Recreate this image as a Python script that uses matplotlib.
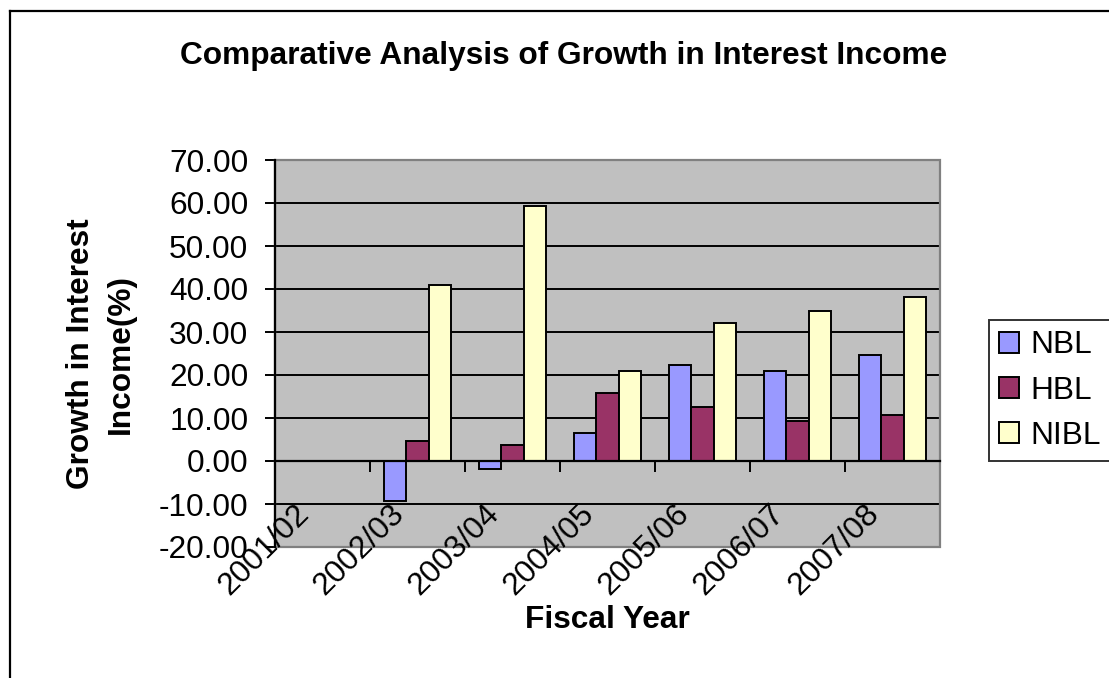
import matplotlib
matplotlib.use("Agg")
import matplotlib.pyplot as plt
import numpy as np
from matplotlib.patches import Rectangle
from matplotlib.lines import Line2D

plt.rcParams['font.family'] = ['Liberation Sans', 'DejaVu Sans']

years = ["2001/02", "2002/03", "2003/04", "2004/05", "2005/06", "2006/07", "2007/08"]
nbl = [0.0, -9.3, -1.9, 6.5, 22.4, 21.0, 24.7]
hbl = [0.0, 4.6, 3.7, 15.9, 12.6, 9.4, 10.7]
nibl = [0.0, 40.9, 59.2, 21.0, 32.2, 34.9, 38.2]
series_names = ["NBL", "HBL", "NIBL"]
series_colors = ["#9999FF", "#993366", "#FFFFCC"]
y_ticks = [-20, -10, 0, 10, 20, 30, 40, 50, 60, 70]
y_tick_labels = ["-20.00", "-10.00", "0.00", "10.00", "20.00", "30.00", "40.00", "50.00", "60.00", "70.00"]

W, H = 1109, 678
fig = plt.figure(figsize=(W / 100, H / 100), dpi=100)
fig.patch.set_facecolor("white")

# outer chart border (left and top visible)
fig.add_artist(Line2D([10 / W, 10 / W], [0, 1 - 11 / H], color="black", lw=1.6, transform=fig.transFigure))
fig.add_artist(Line2D([10 / W, 1], [1 - 11 / H, 1 - 11 / H], color="black", lw=1.6, transform=fig.transFigure))

left, right, top, bottom = 275, 940, 160, 547
ax = fig.add_axes([left / W, 1 - bottom / H, (right - left) / W, (bottom - top) / H])
ax.set_facecolor("#C0C0C0")

fs = 22.8
x = np.arange(len(years))
bw = 0.236
data = [nbl, hbl, nibl]
for k, (vals, name, col) in enumerate(zip(data, series_names, series_colors)):
    ax.bar(x + (k - 1) * bw, vals, width=bw, color=col, edgecolor="black", linewidth=1.4,
           label=name, zorder=3)

ax.set_xlim(-0.5, len(years) - 0.5)
ax.set_ylim(-20, 70)
ax.set_yticks(y_ticks)
ax.set_yticklabels(y_tick_labels, fontsize=fs)
ax.tick_params(axis="y", length=10 * 0.72, width=1.4, pad=12, direction="out", color="black")
ax.yaxis.grid(True, color="black", linewidth=1.4, zorder=1)
ax.set_axisbelow(True)

# x axis at zero with tick marks at category boundaries
ax.spines["bottom"].set_position(("data", 0))
ax.spines["bottom"].set_linewidth(1.6)
ax.spines["bottom"].set_zorder(4)
ax.set_xticks(np.arange(-0.5, len(years), 1.0))
ax.set_xticklabels([])
ax.tick_params(axis="x", length=11 * 0.72, width=1.4, direction="out", color="black")
for s in ["top", "right"]:
    ax.spines[s].set_visible(False)
ax.spines["left"].set_linewidth(1.6)
ax.spines["left"].set_zorder(5)

# gray plot-area border
ax.add_patch(Rectangle((0, 0), 1, 1, transform=ax.transAxes, facecolor="none",
                       edgecolor="#808080", linewidth=1.6, zorder=4, clip_on=False))

# category labels (rotated, overlapping plot area like the original)
for i, lab in enumerate(years):
    ax.text(i - 0.3, -8.8, lab, rotation=45, rotation_mode="anchor", ha="right", va="top",
            fontsize=fs, zorder=6, clip_on=False)

fig.text(563.5 / W, 1 - 64 / H, "Comparative Analysis of Growth in Interest Income",
         ha="center", va="baseline", fontsize=fs, fontweight="bold")
fig.text(607.5 / W, 1 - 628 / H, "Fiscal Year", ha="center", va="baseline",
         fontsize=fs, fontweight="bold")
fig.text(101 / W, 1 - 353.5 / H, "Growth in Interest\nIncome(%)", ha="center", va="center",
         rotation=90, fontsize=fs, fontweight="bold", linespacing=1.45, multialignment="center")

leg = fig.legend(loc="upper left", bbox_to_anchor=(989 / W, 1 - 320 / H), bbox_transform=fig.transFigure,
                 fontsize=fs, frameon=True, fancybox=False, shadow=False,
                 handlelength=0.63, handleheight=0.63, handletextpad=0.35,
                 labelspacing=0.48, borderpad=0.33, borderaxespad=0)
leg.get_frame().set_edgecolor("black")
leg.get_frame().set_linewidth(1.4)
leg.get_frame().set_facecolor("white")

fig.savefig("out.png", dpi=100, facecolor="white")
